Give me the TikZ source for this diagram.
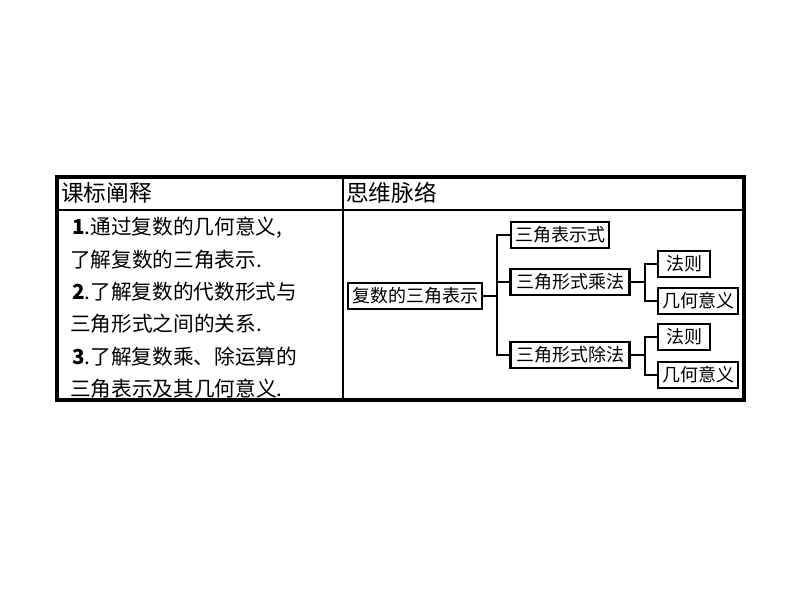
\documentclass[tikz,border=0pt]{standalone}
\usepackage{fontspec}
\setmainfont{Liberation Serif}
\newfontfamily\cjk{Noto Sans CJK SC}
\begin{document}
\begin{tikzpicture}[x=0.75pt,y=-0.75pt,
  box/.style={draw,line width=1.6pt,inner sep=0pt,font=\cjk\fontsize{13.5}{15}\selectfont},
  ln/.style={line width=1.3pt},
  hd/.style={anchor=west,inner sep=0pt,font=\cjk\fontsize{17}{19}\selectfont},
  txt/.style={anchor=west,inner sep=0pt,font=\cjk\fontsize{15.5}{17}\selectfont}]
\useasboundingbox (0,0) rectangle (794,596);
\draw[line width=1pt] (57,210) -- (744,210);
\draw[line width=1pt] (343,177) -- (343,400);
\draw[line width=2.5pt] (57,177) rectangle (744,400);
\node[hd] (h1) at (61,193) {课标阐释};
\node[hd] (h2) at (346,193) {思维脉络};
\node[txt] (l1) at (72,228) {\textbf{1}.通过复数的几何意义,};
\node[txt] (l2) at (70,260) {了解复数的三角表示.};
\node[txt] (l3) at (72,292) {\textbf{2}.了解复数的代数形式与};
\node[txt] (l4) at (70,324) {三角形式之间的关系.};
\node[txt] (l5) at (72,357) {\textbf{3}.了解复数乘、除运算的};
\node[txt] (l6) at (70,389) {三角表示及其几何意义.};
\node[box,minimum width=134pt*0.75,minimum height=26*0.75pt] (r) at (415,296) {复数的三角表示};
\node[box,minimum width=98*0.75pt,minimum height=26*0.75pt] (a) at (560,235) {三角表示式};
\node[box,minimum width=119*0.75pt,minimum height=26*0.75pt] (b) at (570,282) {三角形式乘法};
\node[box,minimum width=119*0.75pt,minimum height=26*0.75pt] (c) at (570,355) {三角形式除法};
\node[box,minimum width=52*0.75pt,minimum height=26*0.75pt] (b1) at (684,264) {法则};
\node[box,minimum width=80*0.75pt,minimum height=26*0.75pt] (b2) at (698,301) {几何意义};
\node[box,minimum width=52*0.75pt,minimum height=26*0.75pt] (c1) at (684,337) {法则};
\node[box,minimum width=80*0.75pt,minimum height=26*0.75pt] (c2) at (698,375) {几何意义};
\coordinate (j1) at (497,296);
\draw[ln] (r.east) -- (j1);
\draw[ln] (a.west) -| (j1) |- (c.west);
\draw[ln] (j1 |- b.west) -- (b.west);
\coordinate (j2) at (645,282);
\draw[ln] (b.east) -- (j2);
\draw[ln] (b1.west) -| (j2) |- (b2.west);
\coordinate (j3) at (645,355);
\draw[ln] (c.east) -- (j3);
\draw[ln] (c1.west) -| (j3) |- (c2.west);
\end{tikzpicture}
\end{document}
